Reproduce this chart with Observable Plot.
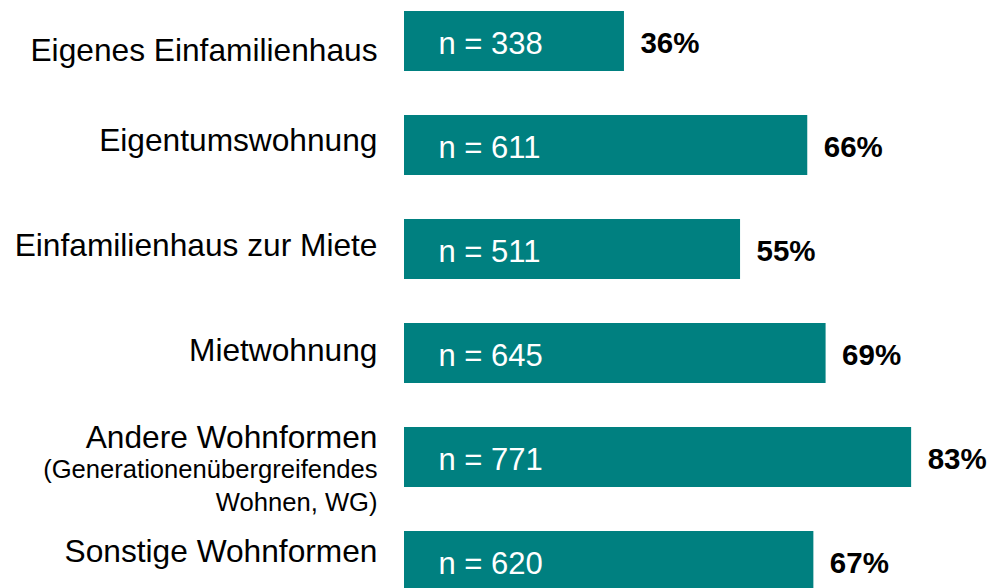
<!DOCTYPE html>
<html>
<head>
<meta charset="utf-8">
<script src="https://cdn.jsdelivr.net/npm/d3@7"></script>
<script src="https://cdn.jsdelivr.net/npm/@observablehq/plot@0.6"></script>
<style>
  html, body { margin: 0; padding: 0; background: #fff; overflow: hidden; }
  #chart { width: 990px; height: 588px; }
</style>
</head>
<body>
<div id="chart"></div>
<script>
// ---- data ----
const categories = [
  "Eigenes Einfamilienhaus",
  "Eigentumswohnung",
  "Einfamilienhaus zur Miete",
  "Mietwohnung",
  "Andere Wohnformen",
  "Sonstige Wohnformen"
];
const subLabels = ["", "", "", "", "(Generationenübergreifendes\nWohnen, WG)", ""];
const sampleSizes = [338, 611, 511, 645, 771, 620];
const percentages = [36, 66, 55, 69, 83, 67];

const rows = categories.map((c, i) => ({
  category: c,
  sub: subLabels[i],
  n: sampleSizes[i],
  pct: percentages[i]
}));

// ---- rendering ----
const FONT = "'Liberation Sans', Arial, Helvetica, sans-serif";
const TEAL = "#008080";
const labelNudge = [9, -5, -4, -3, -20, -10];

const labelMarks = rows.map((r, i) =>
  Plot.text([r], {
    x: 0, y: "category", text: "category",
    textAnchor: "end", dx: -27, dy: labelNudge[i],
    fontSize: 31.7, fill: "#000"
  })
);

const chart = Plot.plot({
  width: 990,
  height: 588,
  marginTop: 0, marginBottom: 0, marginLeft: 0, marginRight: 0,
  style: { fontFamily: FONT, background: "#fff", overflow: "hidden" },
  x: { domain: [0, 100], range: [404, 1015], axis: null },
  y: { domain: categories, range: [11, 591], paddingInner: 0.4231, paddingOuter: 0, axis: null },
  marks: [
    Plot.barX(rows, { x: "pct", y: "category", fill: TEAL }),
    Plot.text(rows, {
      x: 0, y: "category", text: d => `n = ${d.n}`,
      textAnchor: "start", dx: 34, dy: 2.5,
      fontSize: 31, fill: "#fff"
    }),
    Plot.text(rows, {
      x: "pct", y: "category", text: d => `${d.pct}%`,
      textAnchor: "start", dx: 16, dy: 2,
      fontSize: 29.5, fontWeight: "bold", fill: "#000"
    }),
    ...labelMarks,
    Plot.text(rows.filter(d => d.sub), {
      x: 0, y: "category", text: "sub",
      textAnchor: "end", dx: -27, dy: 26.5, lineHeight: 1.3,
      fontSize: 25.6, fill: "#000"
    })
  ]
});

document.getElementById("chart").appendChild(chart);
</script>
</body>
</html>
